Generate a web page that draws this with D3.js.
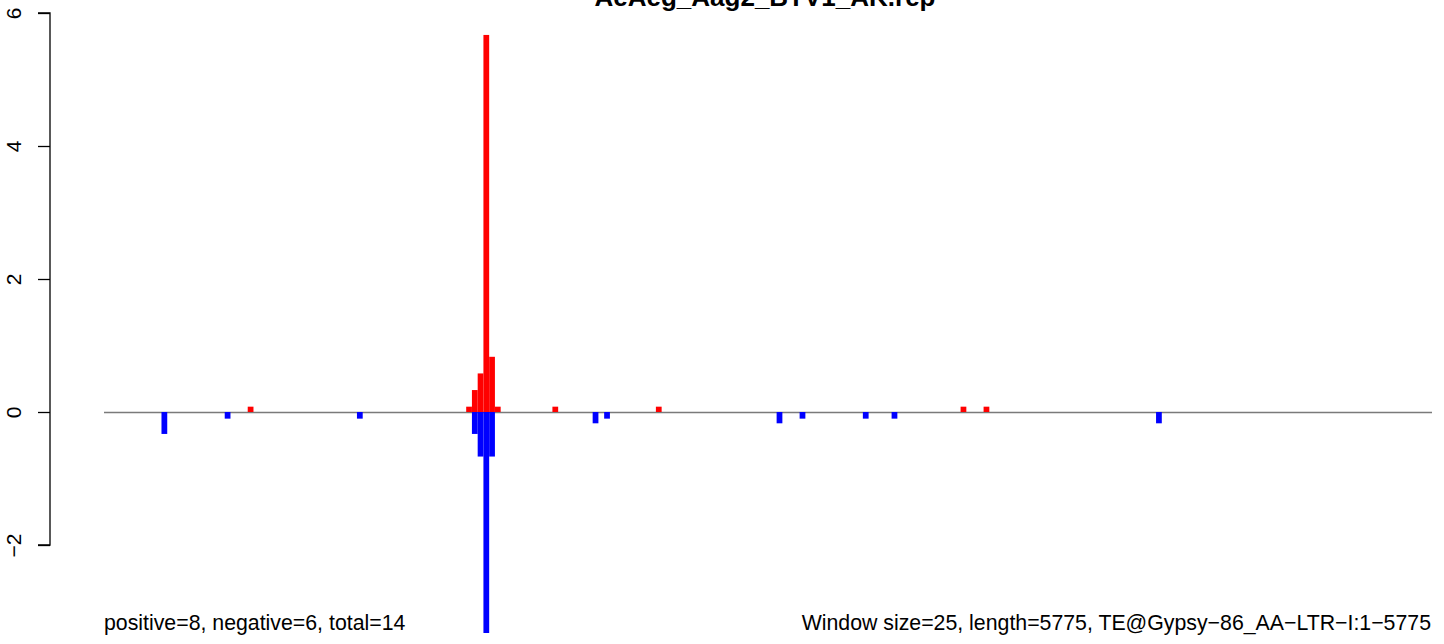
<!DOCTYPE html>
<html>
<head>
<meta charset="utf-8">
<script src="https://cdn.jsdelivr.net/npm/d3@7"></script>
<style>
  html, body { margin: 0; padding: 0; background: #fff; }
  svg { display: block; font-family: "Liberation Sans", Arial, Helvetica, sans-serif; }
</style>
</head>
<body>
<svg id="chart" width="1444" height="644"></svg>
<script>
const titleText = "AeAeg_Aag2_BTV1_AK.rep";
const leftNote = "positive=8, negative=6, total=14";
const rightNote = "Window size=25, length=5775, TE@Gypsy\u221286_AA\u2212LTR\u2212I:1\u22125775";
const windowCount = 231; // 5775 / 25
const yTicks = [-2, 0, 2, 4, 6];

// positive-strand windows (red)
const redWindows = [25, 63, 64, 65, 66, 67, 68, 78, 96, 149, 153];
const redValues  = [0.08, 0.08, 0.33, 0.58, 5.67, 0.83, 0.08, 0.08, 0.08, 0.08, 0.08];
// negative-strand windows (blue)
const blueWindows = [10, 21, 44, 64, 65, 66, 67, 85, 87, 117, 121, 132, 137, 183];
const blueValues  = [-0.33, -0.1, -0.1, -0.33, -0.67, -3.4, -0.67, -0.17, -0.1, -0.17, -0.1, -0.1, -0.1, -0.17];

const svg = d3.select("#chart");
const x = d3.scaleLinear().domain([0, windowCount]).range([104, 1432]);
const y = d3.scaleLinear().domain([-2, 6]).range([545, 13]);

svg.append("defs").append("clipPath").attr("id", "plotclip")
  .append("rect").attr("x", 95).attr("y", -20).attr("width", 1345).attr("height", 653);

const plot = svg.append("g").attr("clip-path", "url(#plotclip)");

plot.append("line")
  .attr("x1", x(0)).attr("x2", x(windowCount))
  .attr("y1", y(0) + 0.5).attr("y2", y(0) + 0.5)
  .attr("stroke", "#7a7a7a").attr("stroke-width", 1.3);

const red = redWindows.map((w, i) => ({w, v: redValues[i]}));
const blue = blueWindows.map((w, i) => ({w, v: blueValues[i]}));

plot.selectAll("rect.red").data(red).join("rect")
  .attr("class", "red")
  .attr("x", d => x(d.w)).attr("width", d => x(d.w + 1) - x(d.w))
  .attr("y", d => y(d.v)).attr("height", d => y(0) - y(d.v))
  .attr("fill", "#ff0000");

plot.selectAll("rect.blue").data(blue).join("rect")
  .attr("class", "blue")
  .attr("x", d => x(d.w)).attr("width", d => x(d.w + 1) - x(d.w))
  .attr("y", y(0)).attr("height", d => y(d.v) - y(0))
  .attr("fill", "#0000ff");

// y axis
const axis = d3.axisLeft(y).tickValues(yTicks).tickSize(12).tickPadding(0).tickFormat(d => d < 0 ? "\u2212" + Math.abs(d) : d);
const ag = svg.append("g").attr("transform", "translate(50,0)").call(axis);
ag.select(".domain").attr("stroke", "#000").attr("stroke-width", 1.3).attr("d", `M-12,${y(6)}H0V${y(-2)}H-12`);
ag.selectAll(".tick line").attr("stroke", "#000").attr("stroke-width", 1.3);
ag.selectAll(".tick text")
  .attr("x", 0).attr("dy", null)
  .attr("transform", "translate(-29,0) rotate(-90)")
  .attr("text-anchor", "middle")
  .attr("font-size", 21).attr("fill", "#000")
  .attr("font-family", "Liberation Sans, Arial, sans-serif");

// title (partly above the top edge, as in the reference)
svg.append("text").attr("x", 765).attr("y", 6)
  .attr("text-anchor", "middle").attr("font-weight", "bold").attr("font-size", 26)
  .attr("fill", "#000").text(titleText);

// notes
svg.append("text").attr("x", 104).attr("y", 630)
  .attr("font-size", 21.3).attr("fill", "#000").text(leftNote);
svg.append("text").attr("x", 1431).attr("y", 630).attr("text-anchor", "end")
  .attr("font-size", 21.3).attr("fill", "#000").text(rightNote);
</script>
</body>
</html>
